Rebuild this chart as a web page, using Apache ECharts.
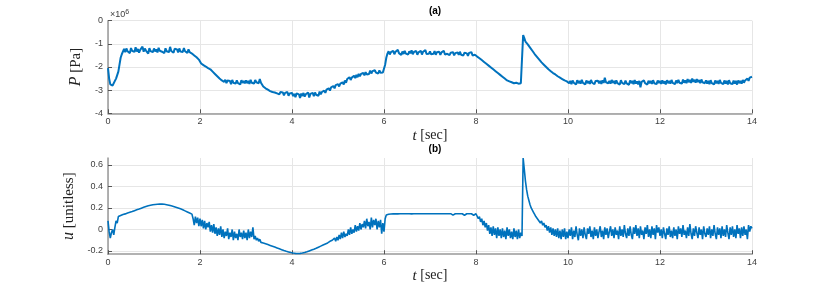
<!DOCTYPE html>
<html><head><meta charset="utf-8">
<script src="https://cdn.jsdelivr.net/npm/echarts@6/dist/echarts.min.js"></script>
<style>html,body{margin:0;padding:0;background:#fff}#c{width:830px;height:289px}</style>
</head><body><div id="c"></div>
<script>
// sample step of the recorded signals (sec)
const dt = 0.025;
// tick labels
const xTicks = [0, 2, 4, 6, 8, 10, 12, 14];
const pTicks = [0, -1, -2, -3, -4];
const uTicks = [-0.2, 0, 0.2, 0.4, 0.6];

// (a) pressure P, in units of 1e6 Pa, sampled every 0.025 s from t=0 to 14
const P = [
 -2.05,-2.5,-2.75,-2.82,-2.8,-2.72,-2.6,-2.5,-2.35,-2.2,
 -1.9,-1.6,-1.45,-1.38,-1.22,-1.36,-1.2,-1.32,-1.25,-1.4,
 -1.18,-1.3,-1.24,-1.35,-1.15,-1.33,-1.22,-1.38,-1.26,-1.3,
 -1.12,-1.34,-1.2,-1.29,-1.23,-1.42,-1.19,-1.31,-1.25,-1.36,
 -1.2,-1.33,-1.24,-1.37,-1.17,-1.3,-1.22,-1.34,-1.26,-1.4,
 -1.19,-1.32,-1.25,-1.36,-1.13,-1.31,-1.23,-1.38,-1.21,-1.29,
 -1.24,-1.37,-1.2,-1.33,-1.27,-1.35,-1.18,-1.32,-1.26,-1.39,
 -1.24,-1.36,-1.3,-1.42,-1.38,-1.5,-1.46,-1.58,-1.55,-1.68,
 -1.7,-1.85,-1.8,-1.92,-1.86,-1.98,-1.92,-2.05,-2.0,-2.1,
 -2.08,-2.2,-2.18,-2.3,-2.28,-2.4,-2.38,-2.5,-2.45,-2.58,
 -2.52,-2.64,-2.55,-2.7,-2.58,-2.66,-2.6,-2.74,-2.56,-2.68,
 -2.6,-2.72,-2.58,-2.7,-2.62,-2.75,-2.57,-2.69,-2.6,-2.71,
 -2.58,-2.7,-2.6,-2.73,-2.55,-2.68,-2.6,-2.72,-2.56,-2.66,
 -2.6,-2.7,-2.52,-2.68,-2.72,-2.84,-2.8,-2.92,-2.88,-2.98,
 -2.92,-3.04,-2.96,-3.08,-3.0,-3.1,-3.02,-3.14,-3.06,-3.18,
 -3.08,-3.16,-3.1,-3.22,-3.12,-3.2,-3.08,-3.24,-3.14,-3.2,
 -3.12,-3.26,-3.16,-3.3,-3.14,-3.22,-3.18,-3.34,-3.15,-3.25,
 -3.12,-3.28,-3.18,-3.24,-3.1,-3.32,-3.16,-3.22,-3.12,-3.26,
 -3.1,-3.2,-3.14,-3.24,-3.06,-3.18,-3.08,-3.14,-3.02,-3.12,
 -2.98,-3.06,-2.92,-3.02,-2.88,-2.96,-2.82,-2.92,-2.78,-2.86,
 -2.74,-2.84,-2.72,-2.8,-2.66,-2.76,-2.58,-2.68,-2.52,-2.6,
 -2.44,-2.56,-2.46,-2.52,-2.38,-2.48,-2.34,-2.44,-2.3,-2.4,
 -2.3,-2.38,-2.26,-2.36,-2.22,-2.32,-2.24,-2.3,-2.16,-2.28,
 -2.18,-2.26,-2.14,-2.24,-2.16,-2.28,-2.15,-2.25,-2.18,-2.24,
 -2.2,-1.9,-1.6,-1.42,-1.32,-1.46,-1.36,-1.44,-1.3,-1.45,
 -1.34,-1.42,-1.26,-1.4,-1.35,-1.48,-1.33,-1.44,-1.3,-1.42,
 -1.36,-1.46,-1.32,-1.41,-1.28,-1.45,-1.35,-1.43,-1.31,-1.47,
 -1.37,-1.42,-1.3,-1.46,-1.34,-1.41,-1.27,-1.44,-1.36,-1.43,
 -1.33,-1.45,-1.38,-1.43,-1.31,-1.47,-1.36,-1.42,-1.34,-1.48,
 -1.37,-1.44,-1.3,-1.46,-1.38,-1.43,-1.35,-1.49,-1.38,-1.45,
 -1.36,-1.5,-1.4,-1.46,-1.37,-1.48,-1.34,-1.47,-1.4,-1.5,
 -1.38,-1.46,-1.41,-1.52,-1.39,-1.47,-1.36,-1.5,-1.42,-1.47,
 -1.44,-1.55,-1.52,-1.62,-1.6,-1.7,-1.66,-1.78,-1.75,-1.86,
 -1.82,-1.94,-1.9,-2.02,-1.98,-2.1,-2.06,-2.18,-2.14,-2.26,
 -2.22,-2.34,-2.3,-2.42,-2.38,-2.5,-2.46,-2.58,-2.52,-2.62,
 -2.56,-2.66,-2.6,-2.7,-2.62,-2.68,-2.6,-2.72,-2.64,-2.7,
 -2.66,-0.62,-0.75,-0.9,-0.96,-1.02,-1.1,-1.16,-1.2,-1.3,
 -1.32,-1.44,-1.45,-1.56,-1.58,-1.68,-1.68,-1.8,-1.78,-1.9,
 -1.88,-2.0,-1.98,-2.1,-2.06,-2.18,-2.14,-2.26,-2.2,-2.32,
 -2.28,-2.4,-2.34,-2.46,-2.4,-2.52,-2.46,-2.58,-2.5,-2.62,
 -2.56,-2.7,-2.6,-2.74,-2.58,-2.68,-2.62,-2.76,-2.57,-2.7,
 -2.6,-2.72,-2.55,-2.69,-2.62,-2.75,-2.58,-2.7,-2.61,-2.73,
 -2.56,-2.68,-2.6,-2.74,-2.6,-2.66,-2.59,-2.71,-2.6,-2.73,
 -2.57,-2.69,-2.46,-2.66,-2.58,-2.7,-2.6,-2.72,-2.56,-2.69,
 -2.6,-2.73,-2.58,-2.7,-2.62,-2.76,-2.57,-2.69,-2.61,-2.74,
 -2.59,-2.71,-2.63,-2.77,-2.58,-2.7,-2.6,-2.74,-2.56,-2.72,
 -2.62,-2.75,-2.6,-2.88,-2.64,-2.72,-2.58,-2.7,-2.62,-2.76,
 -2.59,-2.71,-2.6,-2.73,-2.57,-2.7,-2.62,-2.74,-2.58,-2.69,
 -2.6,-2.73,-2.58,-2.71,-2.62,-2.75,-2.57,-2.7,-2.6,-2.72,
 -2.56,-2.69,-2.61,-2.74,-2.58,-2.7,-2.55,-2.68,-2.6,-2.72,
 -2.54,-2.68,-2.58,-2.7,-2.52,-2.66,-2.56,-2.69,-2.5,-2.64,
 -2.55,-2.68,-2.52,-2.65,-2.56,-2.7,-2.54,-2.66,-2.58,-2.7,
 -2.58,-2.72,-2.6,-2.74,-2.57,-2.7,-2.62,-2.75,-2.58,-2.71,
 -2.6,-2.73,-2.56,-2.69,-2.61,-2.74,-2.58,-2.72,-2.6,-2.75,
 -2.57,-2.7,-2.62,-2.74,-2.59,-2.72,-2.6,-2.76,-2.58,-2.7,
 -2.6,-2.72,-2.56,-2.68,-2.58,-2.66,-2.5,-2.6,-2.46,-2.52,
 -2.42
];

// (b) control signal u (unitless), same sampling
const U = [
 0.08,-0.02,-0.08,-0.03,0.0,-0.05,0.02,0.08,0.06,0.12,
 0.125,0.13,0.135,0.14,0.142,0.145,0.15,0.153,0.156,0.16,
 0.163,0.167,0.171,0.175,0.179,0.183,0.187,0.19,0.194,0.198,
 0.202,0.206,0.209,0.213,0.216,0.22,0.222,0.225,0.227,0.23,
 0.232,0.233,0.234,0.235,0.236,0.236,0.236,0.236,0.235,0.234,
 0.232,0.23,0.228,0.226,0.223,0.22,0.217,0.214,0.21,0.207,
 0.203,0.2,0.196,0.192,0.188,0.183,0.178,0.173,0.168,0.163,
 0.158,0.153,0.148,0.143,0.1,0.04,0.12,0.06,0.11,0.03,
 0.1,0.03,0.09,0.01,0.08,0.0,0.06,0.02,0.07,-0.02,
 0.04,-0.03,0.05,-0.04,0.02,-0.06,0.01,-0.05,0.03,-0.07,
 0.0,-0.08,-0.02,-0.06,0.01,-0.09,-0.03,-0.07,0.0,-0.1,
 -0.02,-0.08,-0.04,-0.1,0.0,-0.07,-0.03,-0.09,-0.01,-0.08,
 -0.03,-0.1,0.0,-0.08,-0.02,-0.07,0.02,-0.09,-0.06,-0.1,
 -0.08,-0.11,-0.09,-0.12,-0.11,-0.125,-0.128,-0.132,-0.136,-0.14,
 -0.144,-0.148,-0.152,-0.156,-0.16,-0.164,-0.168,-0.172,-0.176,-0.18,
 -0.184,-0.188,-0.192,-0.196,-0.199,-0.203,-0.206,-0.209,-0.212,-0.215,
 -0.217,-0.219,-0.221,-0.222,-0.223,-0.223,-0.223,-0.222,-0.221,-0.219,
 -0.217,-0.214,-0.211,-0.208,-0.204,-0.2,-0.196,-0.192,-0.188,-0.184,
 -0.18,-0.175,-0.17,-0.165,-0.16,-0.155,-0.15,-0.145,-0.14,-0.135,
 -0.13,-0.125,-0.12,-0.11,-0.12,-0.1,-0.115,-0.08,-0.11,-0.07,
 -0.1,-0.05,-0.09,-0.03,-0.08,-0.02,-0.07,-0.04,-0.06,0.0,
 -0.05,0.02,-0.04,0.0,-0.03,0.04,-0.02,0.03,-0.01,0.06,
 0.0,0.05,0.02,0.08,0.01,0.1,0.03,0.07,0.0,0.11,
 0.02,0.09,0.04,0.1,0.0,0.08,0.02,0.09,-0.04,0.06,
 -0.02,0.1,0.135,0.14,0.142,0.143,0.144,0.144,0.145,0.145,
 0.145,0.146,0.145,0.146,0.146,0.145,0.146,0.146,0.146,0.145,
 0.146,0.146,0.146,0.146,0.145,0.146,0.146,0.146,0.146,0.146,
 0.146,0.146,0.147,0.146,0.146,0.146,0.147,0.146,0.146,0.146,
 0.146,0.147,0.146,0.146,0.147,0.146,0.147,0.146,0.146,0.147,
 0.146,0.147,0.146,0.147,0.146,0.132,0.147,0.146,0.147,0.146,
 0.133,0.147,0.146,0.131,0.147,0.146,0.147,0.133,0.146,0.147,
 0.132,0.147,0.146,0.134,0.147,0.131,0.146,0.147,0.132,0.147,
 0.146,0.13,0.1,0.12,0.07,0.1,0.04,0.08,0.02,0.06,
 -0.01,0.04,-0.04,0.02,-0.06,0.03,-0.05,0.01,-0.08,0.02,
 -0.06,0.0,-0.08,0.01,-0.07,-0.01,-0.09,0.02,-0.06,0.0,
 -0.08,-0.02,-0.09,0.01,-0.07,-0.01,-0.09,0.0,-0.08,-0.03,
 -0.06,0.665,0.56,0.45,0.37,0.31,0.27,0.23,0.2,0.18,
 0.16,0.14,0.12,0.11,0.09,0.1,0.06,0.08,0.04,0.06,
 0.02,0.04,-0.01,0.03,-0.03,0.02,-0.05,0.01,-0.06,0.0,
 -0.07,0.01,-0.08,-0.01,-0.09,0.0,-0.07,0.01,-0.09,-0.02,
 -0.08,0.0,-0.06,0.02,-0.09,-0.01,-0.07,0.03,-0.05,-0.1,
 0.01,-0.06,0.0,-0.08,0.02,-0.05,-0.09,0.01,-0.04,0.03,
 -0.07,-0.01,-0.09,0.02,-0.06,0.0,-0.08,-0.02,0.03,-0.07,
 -0.01,-0.09,0.02,-0.05,0.01,-0.08,-0.02,0.03,-0.06,0.0,
 -0.08,0.02,-0.05,-0.01,-0.09,0.03,-0.06,0.0,-0.07,0.04,
 -0.04,-0.08,0.01,-0.06,0.03,-0.05,-0.09,0.02,-0.04,0.04,
 -0.06,0.01,-0.08,0.03,-0.05,-0.01,-0.09,0.02,-0.04,0.04,
 -0.07,0.0,-0.08,0.03,-0.05,0.01,-0.09,0.04,-0.03,0.02,
 -0.06,0.0,-0.08,0.02,-0.04,-0.09,0.01,-0.05,0.03,-0.07,
 -0.01,-0.08,0.02,-0.06,0.0,-0.09,0.03,-0.04,0.01,-0.07,
 0.04,-0.05,-0.01,-0.08,0.02,-0.06,0.05,-0.04,-0.09,0.01,
 -0.06,0.03,-0.03,-0.08,0.02,-0.05,0.0,-0.09,0.03,-0.04,
 -0.07,0.01,-0.05,0.03,-0.08,0.0,-0.06,0.04,-0.04,-0.09,
 0.02,-0.05,0.01,-0.08,0.03,-0.06,0.0,-0.07,0.04,-0.03,
 -0.09,0.02,-0.05,0.03,-0.07,0.0,-0.08,0.04,-0.04,0.01,
 -0.08,0.02,-0.06,0.03,-0.05,0.0,-0.09,0.04,-0.02,0.03,
 0.01
];

const toPairs = arr => arr.map((v, i) => [Math.round(i * dt * 1000) / 1000, v]);

const lineColor = '#0072BD';
const axisGray = '#999999';
const labelColor = '#404040';
const gridColor = '#e6e6e6';
const serif = '"Liberation Serif", "DejaVu Serif", serif';
const sans = '"Liberation Sans", Arial, sans-serif';

const nameStyle = { fontFamily: serif, fontSize: 15, color: '#222',
  rich: { i: { fontFamily: serif, fontStyle: 'italic', fontSize: 16, color: '#222' } } };
const xNameStyle = { fontFamily: serif, fontSize: 14, color: '#222',
  rich: { i: { fontFamily: serif, fontStyle: 'italic', fontSize: 15, color: '#222' } } };

function xAxisCfg(gridIndex, gap) {
  return {
    type: 'value', gridIndex, min: 0, max: 14, interval: 2,
    axisLine: { show: true, onZero: false, lineStyle: { color: axisGray, width: 1.5 } },
    axisTick: { show: true, inside: true, length: 4, lineStyle: { color: '#555' } },
    axisLabel: { color: labelColor, fontSize: 9, fontFamily: sans, margin: 4, customValues: xTicks },
    splitLine: { show: true, lineStyle: { color: gridColor, width: 1 } },
    name: '{i|t} [sec]', nameLocation: 'middle', nameGap: gap, nameTextStyle: xNameStyle
  };
}

const option = {
  animation: false,
  backgroundColor: '#fff',
  grid: [
    { left: 108, right: 78, top: 20.7, height: 92.6 },
    { left: 108, right: 78, top: 158, height: 96.2 }
  ],
  title: [
    { text: '(a)', left: 430, top: 1, textAlign: 'center',
      textStyle: { fontFamily: sans, fontWeight: 'bold', fontSize: 10, color: '#000' } },
    { text: '(b)', left: 430, top: 139, textAlign: 'center',
      textStyle: { fontFamily: sans, fontWeight: 'bold', fontSize: 10, color: '#000' } }
  ],
  xAxis: [xAxisCfg(0, 15), xAxisCfg(1, 14)],
  yAxis: [
    { type: 'value', gridIndex: 0, min: -4, max: 0, interval: 1,
      axisLine: { show: true, lineStyle: { color: axisGray, width: 1.5 } },
      axisTick: { show: true, inside: true, length: 4, lineStyle: { color: '#555' } },
      axisLabel: { color: labelColor, fontSize: 9, fontFamily: sans, margin: 5, customValues: pTicks },
      splitLine: { show: true, lineStyle: { color: gridColor } },
      name: '{i|P} [Pa]', nameLocation: 'middle', nameGap: 12, nameRotate: 90, nameTextStyle: nameStyle },
    { type: 'value', gridIndex: 1, min: -0.23, max: 0.665,
      axisLine: { show: true, lineStyle: { color: axisGray, width: 1.5 } },
      axisTick: { show: true, inside: true, length: 4, lineStyle: { color: '#555' }, customValues: uTicks },
      axisLabel: { color: labelColor, fontSize: 9, fontFamily: sans, margin: 5,
                   customValues: uTicks, formatter: v => String(Math.round(v * 10) / 10) },
      splitLine: { show: true, lineStyle: { color: gridColor } },
      name: '{i|u} [unitless]', nameLocation: 'middle', nameGap: 17, nameRotate: 90, nameTextStyle: nameStyle }
  ],
  graphic: [
    { type: 'text', left: 110, top: 9,
      style: { text: '×10{s|6}', fontFamily: sans, fontSize: 9, fill: labelColor,
               rich: { s: { fontSize: 7, verticalAlign: 'top', fill: labelColor, padding: [0,0,4,0] } } } }
  ],
  series: [
    { type: 'line', xAxisIndex: 0, yAxisIndex: 0, data: toPairs(P), showSymbol: false,
      lineStyle: { color: lineColor, width: 2 }, itemStyle: { color: lineColor } },
    { type: 'line', xAxisIndex: 1, yAxisIndex: 1, data: toPairs(U), showSymbol: false,
      lineStyle: { color: lineColor, width: 1.6 }, itemStyle: { color: lineColor } }
  ]
};
echarts.init(document.getElementById('c'), null, { renderer: 'canvas' }).setOption(option);
</script>
</body></html>
